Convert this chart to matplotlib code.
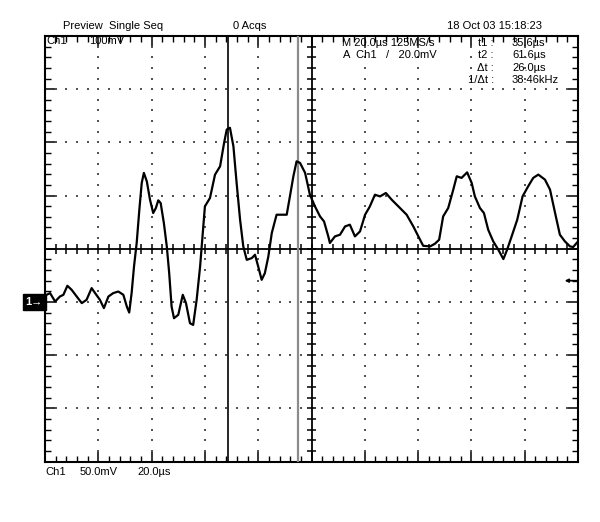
import numpy as np
import matplotlib.pyplot as plt
from matplotlib.ticker import MultipleLocator
import matplotlib.transforms as mtransforms

plt.rcParams['font.family'] = ['Liberation Sans', 'DejaVu Sans']

# trace: time from left edge (us), level from centre line (mV)
t_us = [0.6, 1.9, 3.8, 5.6, 6.9, 8.4, 10.0, 11.9, 13.8, 15.6, 17.5, 18.8, 20.6, 22.1,
        23.8, 25.6, 27.5, 29.4, 30.7, 31.6, 32.5, 33.4, 34.4, 35.4, 36.3, 37.1, 38.2,
        39.4, 40.6, 41.6, 42.5, 43.4, 44.6, 45.7, 46.6, 47.5, 48.4, 50.0, 51.7, 52.9,
        54.4, 55.6, 56.9, 58.2, 60.0, 61.9, 63.8, 65.7, 67.2, 68.2, 69.4, 70.7, 71.9,
        73.2, 74.4, 75.7, 77.6, 78.8, 80.0, 81.3, 82.5, 83.8, 85.1, 86.9, 88.8, 90.7,
        91.9, 93.2, 94.4, 95.7, 97.6, 99.4, 101.3, 103.2, 104.7, 106.3, 106.9, 108.8,
        110.7, 112.6, 114.4, 116.3, 118.2, 120.1, 121.9, 123.8, 125.7, 127.9, 130.1,
        133.2, 135.7, 138.2, 140.1, 141.9, 144.5, 146.3, 147.9, 149.4, 151.3, 153.2,
        154.5, 156.3, 158.4, 160.1, 161.3, 163.2, 164.7, 166.3, 168.2, 170.1, 172.0,
        173.4, 175.1, 177.2, 179.2, 181.3, 183.2, 185.1, 187.6, 189.5, 191.4, 193.2,
        195.1, 197.0, 198.2, 200.0]
v_mv = [-43.3, -41.7, -49.6, -44.9, -43.3, -34.8, -38.6, -44.9, -51.1, -48.0, -37.0,
        -41.7, -48.0, -55.8, -44.9, -41.7, -40.2, -43.3, -54.3, -60.0, -41.7, -16.7,
        5.4, 36.7, 61.9, 71.3, 63.4, 46.1, 33.6, 38.3, 45.5, 43.0, 24.2, 2.2, -22.9,
        -54.3, -65.3, -62.1, -43.3, -51.1, -70.0, -71.6, -48.0, -16.7, 39.8, 47.7,
        69.7, 77.5, 99.5, 112.1, 113.7, 96.3, 61.9, 27.3, 2.2, -10.4, -8.8, -5.6,
        -16.7, -29.2, -22.9, -7.3, 14.8, 32.0, 32.0, 32.0, 49.2, 68.1, 82.2, 80.7,
        71.3, 50.8, 39.8, 30.4, 25.7, 11.6, 5.4, 11.6, 13.2, 21.0, 22.6, 11.6, 16.3,
        32.0, 39.8, 50.8, 49.2, 52.4, 46.1, 38.3, 32.0, 21.0, 11.6, 2.8, 2.2, 4.7,
        8.5, 30.4, 38.3, 55.6, 68.1, 66.6, 71.8, 61.9, 49.2, 38.3, 33.6, 17.9, 6.9,
        -0.9, -9.7, -0.9, 11.6, 27.3, 49.2, 58.7, 66.6, 69.7, 65.0, 55.6, 33.6, 13.2,
        6.9, 2.2, 1.6, 6.9]

time_div = 20.0    # us/div
volt_div = 50.0    # mV/div on screen
n_xdiv = 10
n_ydiv = 8

trig_offset = 33.2   # trigger point, us from left edge
cursor_t1 = 35.6
cursor_t2 = 61.6
ground_mv = -50.0
trig_level = 20.0

header = ['Preview  Single Seq', '0 Acqs', '18 Oct 03 15:18:23']
readout_labels = ['t1 :', 't2 :', '\u0394t :', '1/\u0394t :']
dt = cursor_t2 - cursor_t1
readout_values = [f'{cursor_t1:.1f}\u00b5s', f'{cursor_t2:.1f}\u00b5s',
                  f'{dt:.1f}\u00b5s', f'{1000 / dt:.2f}kHz']

W, H = 600, 522
fig = plt.figure(figsize=(W / 100, H / 100), dpi=100)
ax = fig.add_axes([45 / W, 1 - 461.5 / H, 533 / W, 425.5 / H])

xmax = n_xdiv * time_div
ymax = n_ydiv / 2 * volt_div
ax.set_xlim(0, xmax)
ax.set_ylim(-ymax, ymax)

# border ticks
ax.xaxis.set_major_locator(MultipleLocator(time_div))
ax.xaxis.set_minor_locator(MultipleLocator(time_div / 5))
ax.yaxis.set_major_locator(MultipleLocator(volt_div))
ax.yaxis.set_minor_locator(MultipleLocator(volt_div / 5))
ax.tick_params(which='both', direction='in', top=True, right=True,
               labelbottom=False, labelleft=False, color='black')
ax.tick_params(which='major', length=7, width=1.1)
ax.tick_params(which='minor', length=4, width=1)
for s in ax.spines.values():
    s.set_linewidth(1.5)

# dotted graticule
minor_x = np.arange(time_div / 5, xmax, time_div / 5)
minor_y = np.arange(-ymax + volt_div / 5, ymax, volt_div / 5)
for k in range(1, n_xdiv):
    if k == n_xdiv // 2:
        continue
    ax.scatter(np.full_like(minor_y, k * time_div), minor_y, s=2, marker='s',
               color='#555555', lw=0, zorder=1)
for k in range(1, n_ydiv):
    if k == n_ydiv // 2:
        continue
    yk = -ymax + k * volt_div
    ax.scatter(minor_x, np.full_like(minor_x, yk), s=2, marker='s',
               color='#555555', lw=0, zorder=1)

# centre axes with ticks
xc = xmax / 2
ax.axhline(0, color='black', lw=1.3, zorder=2)
ax.axvline(xc, color='black', lw=1.3, zorder=2)
hy = 0.09 * volt_div
hx = 0.09 * time_div
ax.vlines(minor_x, -hy, hy, color='black', lw=1.1, zorder=2)
ax.hlines(minor_y, xc - hx, xc + hx, color='black', lw=1.1, zorder=2)

# cursors
ax.axvline(trig_offset + cursor_t1, color='black', lw=1.2, zorder=3)
ax.axvline(trig_offset + cursor_t2, color='#8c8c8c', lw=1.6, zorder=3)

# waveform
ax.plot(t_us, v_mv, color='black', lw=1.6, zorder=5)

# ground marker and trigger level arrow
blend = mtransforms.blended_transform_factory(ax.transAxes, ax.transData)
ax.text(-0.004, ground_mv, '1\u2192', transform=blend, ha='right', va='center',
        color='white', fontsize=8, fontweight='bold', clip_on=False,
        bbox=dict(boxstyle='square,pad=0.25', fc='black', ec='black'))
ax.annotate('', xy=(xmax - 5.0, ground_mv + trig_level),
            xytext=(xmax - 0.4, ground_mv + trig_level),
            arrowprops=dict(arrowstyle='-|>', color='black', lw=1.2,
                            mutation_scale=5, shrinkA=0, shrinkB=0))


def ptext(x, y, s, **kw):
    fig.text(x / W, 1 - y / H, s, fontsize=8, va='center', **kw)


ptext(63, 26, header[0])
ptext(233, 26, header[1])
ptext(447, 26, header[2])

ptext(46, 41, 'Ch1')
ptext(89, 41, '100mV')
ptext(342, 43, 'M 20.0\u00b5s 125MS/s')
ptext(343, 55, 'A  Ch1   /   20.0mV')
for i, (lab, val) in enumerate(zip(readout_labels, readout_values)):
    yy = 43 + i * 12.3
    ptext(494, yy, lab, ha='right')
    ptext(512, yy, val)

ptext(45, 472, 'Ch1')
ptext(80, 472, '50.0mV')
ptext(137, 472, '20.0\u00b5s')

fig.savefig('out.png', dpi=100)
